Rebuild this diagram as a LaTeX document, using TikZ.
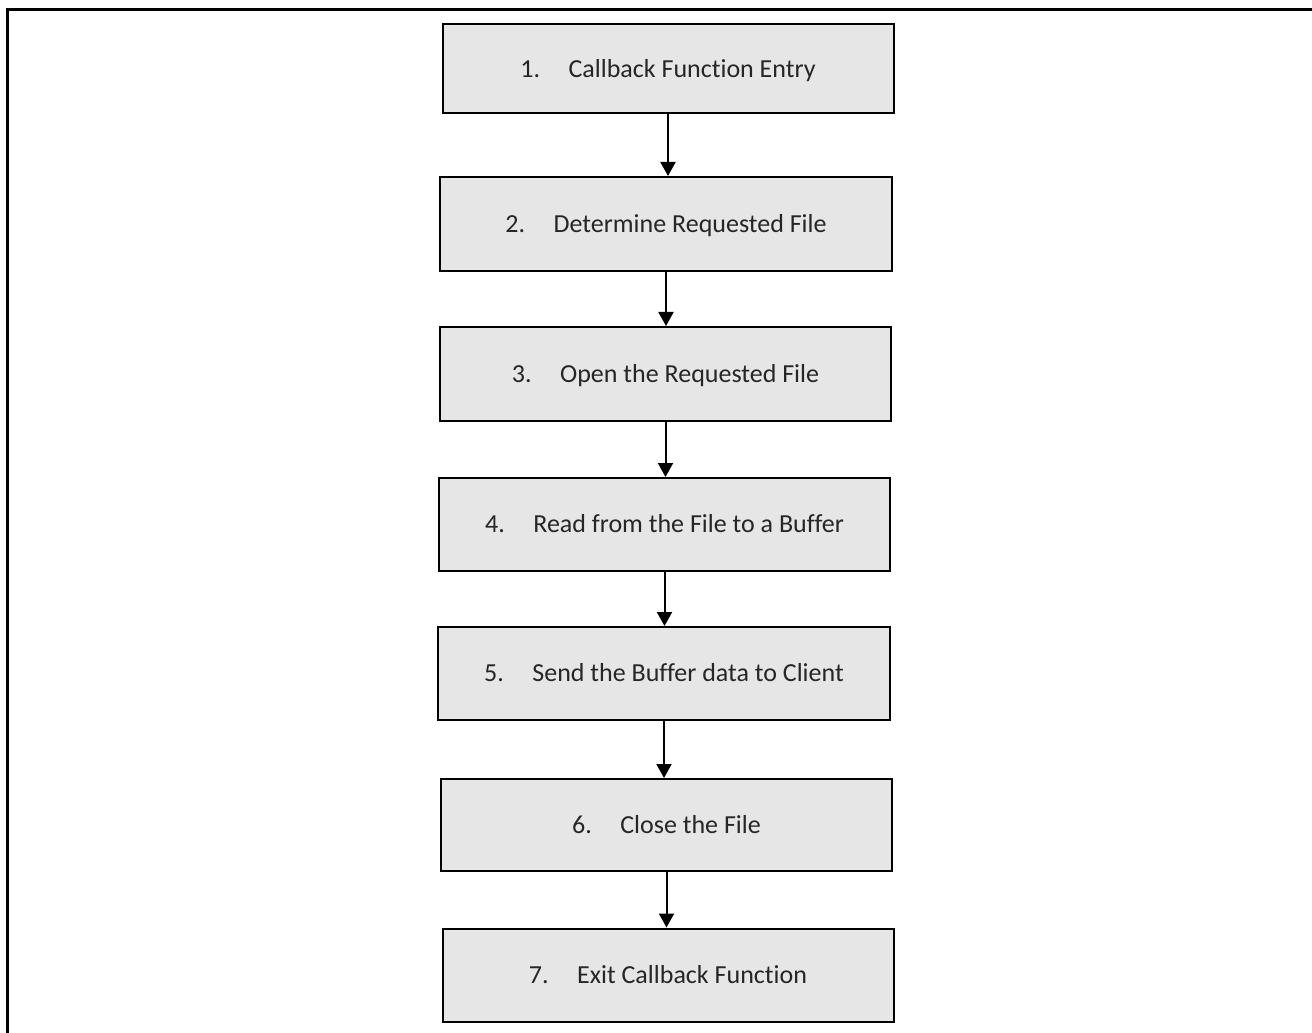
\documentclass[tikz,border=0pt]{standalone}
\usepackage{fontspec}
\setmainfont[Ligatures=NoCommon]{Carlito}
\usetikzlibrary{arrows.meta}
\definecolor{boxfill}{HTML}{E7E6E6}
\definecolor{txt}{HTML}{262626}
\begin{document}
\begin{tikzpicture}[x=0.02cm,y=-0.02cm,
  stepbox/.style={draw=black, line width=0.04cm, fill=boxfill, rectangle,
    minimum width={451*0.02cm}, minimum height={93*0.02cm}, inner sep=0pt,
    text height=9.5pt, text depth=0pt,
    text=txt, font=\fontsize{14.8}{17}\selectfont},
  flow/.style={line width=0.04cm, -{Triangle[length=0.28cm,width=0.3cm]}}]
\useasboundingbox (0,0) rectangle (1312,1033);
\draw[line width=0.06cm] (7.5,1040) -- (7.5,9.5) -- (1320,9.5);
\newcommand{\stp}[2]{#1\hspace{0.57cm}#2}
\node[stepbox, minimum height={89*0.02cm}] (s1) at (668,69) {\stp{1.}{Callback Function Entry}};
\node[stepbox, minimum width={452*0.02cm}, minimum height={94*0.02cm}] (s2) at (666,224) {\stp{2.}{Determine Requested File}};
\node[stepbox, minimum height={94*0.02cm}] (s3) at (665.5,374) {\stp{3.}{Open the Requested File}};
\node[stepbox] (s4) at (664.5,524.5) {\stp{4.}{Read from the File to a Buffer}};
\node[stepbox, minimum width={452*0.02cm}] (s5) at (664,673.5) {\stp{5.}{Send the Buffer data to Client}};
\node[stepbox, minimum height={92*0.02cm}] (s6) at (666.5,825) {\stp{6.}{Close the File}};
\node[stepbox] (s7) at (668,975) {\stp{7.}{Exit Callback Function}};
\foreach \a/\b in {s1/s2,s2/s3,s3/s4,s4/s5,s5/s6,s6/s7}
  \draw[flow] (\a.south) -- (\a.south |- \b.north);
\end{tikzpicture}
\end{document}
